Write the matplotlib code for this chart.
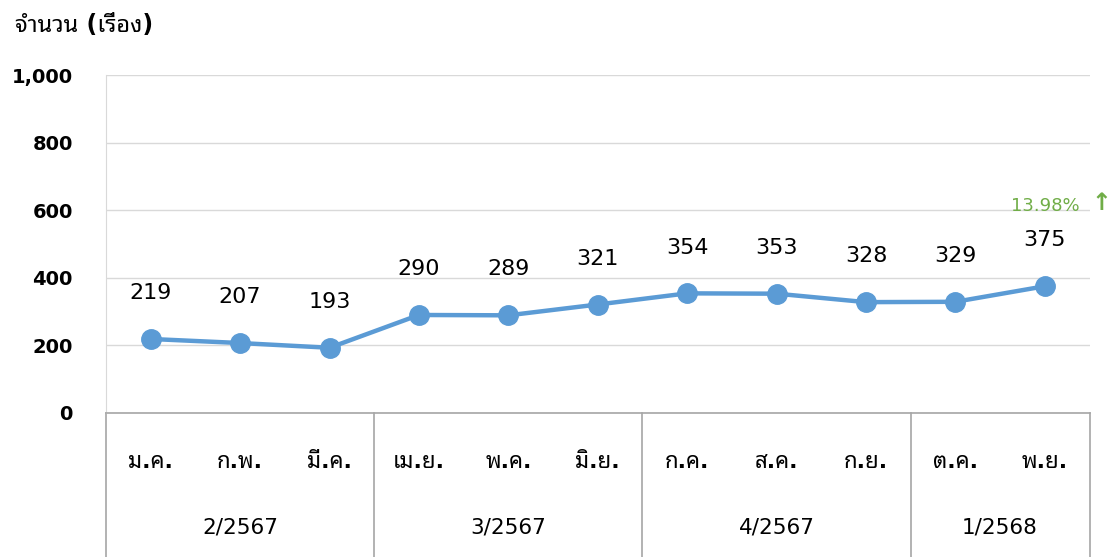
import matplotlib
matplotlib.use("Agg")
import matplotlib.pyplot as plt

# Latin glyphs from DejaVu, Thai glyphs fall back to the looped Thai face
plt.rcParams['font.family'] = ['DejaVu Sans', 'Noto Sans Thai Looped']

months = ['ม.ค.', 'ก.พ.', 'มี.ค.', 'เม.ย.', 'พ.ค.', 'มิ.ย.',
          'ก.ค.', 'ส.ค.', 'ก.ย.', 'ต.ค.', 'พ.ย.']
counts = [219, 207, 193, 290, 289, 321, 354, 353, 328, 329, 375]
quarters = ['2/2567', '3/2567', '4/2567', '1/2568']
quarter_sizes = [3, 3, 3, 2]
yticks = [0, 200, 400, 600, 800, 1000]
change_text = '13.98%'

BLUE = '#5B9BD5'
GREEN = '#70AD47'
GRID = '#D9D9D9'
AXIS = '#A6A6A6'

fig = plt.figure(figsize=(11.13, 5.57), dpi=100)
ax = fig.add_axes([106 / 1113, 144 / 557, 983.5 / 1113, 338 / 557])

x = list(range(len(months)))
ax.plot(x, counts, color=BLUE, linewidth=3.2, marker='o', markersize=14,
        markerfacecolor=BLUE, markeredgecolor=BLUE, zorder=3)

for xi, v in zip(x, counts):
    ax.annotate(str(v), (xi, v), xytext=(0, 33), textcoords='offset points',
                ha='center', va='center', fontsize=16, color='black')

ax.set_xlim(-0.5, len(months) - 0.5)
ax.set_ylim(0, 1000)
ax.set_yticks(yticks)
ax.set_yticklabels([f'{t:,}' for t in yticks], fontsize=14, fontweight='bold')
ax.tick_params(axis='y', length=0, pad=24)
ax.set_xticks([])
ax.grid(axis='y', color=GRID, linewidth=1)
ax.set_axisbelow(True)

for side in ['top', 'right']:
    ax.spines[side].set_visible(False)
ax.spines['left'].set_color(GRID)
ax.spines['bottom'].set_color(AXIS)
ax.spines['bottom'].set_linewidth(1.2)

tr = ax.get_xaxis_transform()
for xi, m in zip(x, months):
    ax.text(xi, -0.145, m, transform=tr, ha='center', va='center',
            fontsize=16, fontweight='bold')

start = -0.5
ax.plot([start, start], [0, -0.5], transform=tr, color=AXIS, lw=1.2, clip_on=False)
for q, n in zip(quarters, quarter_sizes):
    end = start + n
    ax.plot([end, end], [0, -0.5], transform=tr, color=AXIS, lw=1.2, clip_on=False)
    ax.text((start + end) / 2, -0.34, q, transform=tr, ha='center', va='center',
            fontsize=15.5)
    start = end

fig.text(15 / 1113, 1 - 25 / 557, 'จำนวน (เรื่อง)', ha='left', va='center',
         fontsize=17, fontweight='bold')
fig.text(1045 / 1113, 1 - 206 / 557, change_text, ha='center', va='center',
         fontsize=13, color=GREEN)
fig.text(1101 / 1113, 1 - 203 / 557, '↑', ha='center', va='center',
         fontsize=17, color=GREEN, fontweight='bold')

fig.savefig('out.png', dpi=100)
